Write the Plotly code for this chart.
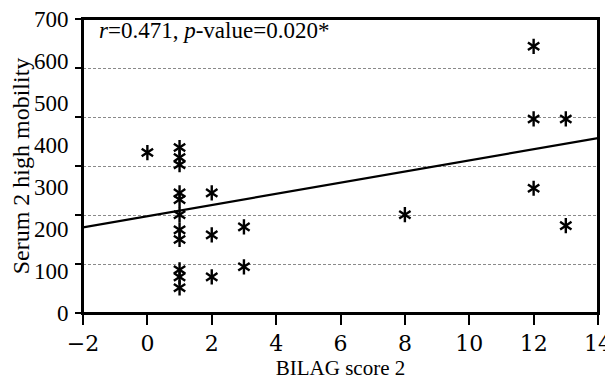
import plotly.graph_objects as go

# Data
bilag_score = [0, 1, 1, 1, 1, 1, 1, 1, 1, 1, 1, 1, 2, 2, 2, 3, 3, 8, 12, 12, 12, 13, 13]
serum_hmg = [382, 394, 370, 353, 286, 270, 234, 198, 175, 103, 86, 60,
             286, 186, 86, 205, 110, 234, 635, 462, 297, 462, 208]

fit_intercept = 230.4
fit_slope = 13.3
fit_x = [-2, 14]
fit_y = [fit_intercept + fit_slope * v for v in fit_x]

x_ticks = [-2, 0, 2, 4, 6, 8, 10, 12, 14]
x_ticktext = ["−2", "0", "2", "4", "6", "8", "10", "12", "14"]
y_label_vals = [0, 100, 200, 300, 400, 500, 600, 700]
y_grid_vals = [i * 700 / 6 for i in range(7)]

serif = "Liberation Serif, Times New Roman, serif"

fig = go.Figure()

fig.add_trace(go.Scatter(x=fit_x, y=fit_y, mode="lines",
                         line=dict(color="black", width=2.2),
                         showlegend=False, hoverinfo="skip"))
for sym in ["y-up-open", "y-down-open"]:
    fig.add_trace(go.Scatter(x=bilag_score, y=serum_hmg, mode="markers",
                             marker=dict(symbol=sym, size=9.5, color="black",
                                         line=dict(color="black", width=2.4)),
                             showlegend=False))

fig.update_layout(
    width=605, height=373,
    margin=dict(l=75, r=15, t=11, b=68),
    paper_bgcolor="white", plot_bgcolor="white",
    font=dict(family=serif, color="black", size=20),
    xaxis=dict(range=[-2, 14], tickmode="array", tickvals=x_ticks, ticktext=x_ticktext,
               ticks="outside", ticklen=10, tickwidth=2, tickcolor="black",
               showline=True, linewidth=2, linecolor="black", mirror=True,
               showgrid=False, zeroline=False, automargin=False,
               ticklabeloverflow="allow",
               tickfont=dict(family="DejaVu Serif", size=22, color="black"),
               title=dict(text="BILAG score 2", font=dict(family=serif, size=21),
                          standoff=3)),
    yaxis=dict(range=[0, 700], tickmode="array", tickvals=y_label_vals,
               ticks="outside", ticklen=8, tickcolor="rgba(0,0,0,0)",
               showline=True, linewidth=2, linecolor="black", mirror=True,
               showgrid=False, zeroline=False, automargin=False,
               ticklabeloverflow="allow",
               tickfont=dict(family=serif, size=23, color="black"),
               title=dict(text="Serum 2 high mobility", font=dict(family=serif, size=24),
                          standoff=2)),
    yaxis2=dict(range=[0, 700], overlaying="y", side="left", anchor="x",
                tickmode="array", tickvals=y_grid_vals, showticklabels=False,
                ticks="outside", ticklen=7, tickwidth=2, tickcolor="black",
                showline=False, showgrid=True, gridcolor="#8a8a8a", gridwidth=1,
                griddash="3px,2px", zeroline=False, automargin=False),
    shapes=[dict(type="rect", xref="paper", yref="paper", x0=0, x1=1, y0=0, y1=1,
                 line=dict(color="black", width=2), fillcolor="rgba(0,0,0,0)",
                 layer="above")],
    annotations=[dict(xref="paper", yref="paper", x=0.028, y=0.96,
                      xanchor="left", yanchor="middle", showarrow=False,
                      text="<i>r</i>=0.471, <i>p</i>-value=0.020*",
                      font=dict(family=serif, size=23, color="black"))],
)

# invisible trace on yaxis2 so its grid and ticks render
fig.add_trace(go.Scatter(x=[-2], y=[0], yaxis="y2", mode="markers",
                         marker=dict(opacity=0), showlegend=False, hoverinfo="skip"))

fig.write_html("out.html")
